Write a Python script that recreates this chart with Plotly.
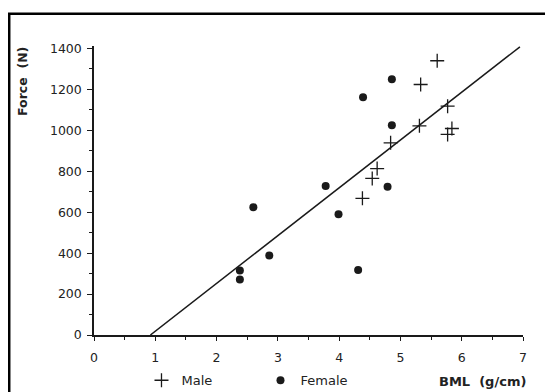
import plotly.graph_objects as go

male_x = [5.60, 5.33, 5.77, 5.31, 5.84, 5.77, 4.84, 4.62, 4.54, 4.38]
male_y = [1340, 1224, 1118, 1022, 1009, 980, 939, 813, 765, 668]

female_x = [4.86, 4.86, 4.79, 4.39, 3.78, 2.60, 3.99, 2.86, 2.38, 2.38, 4.31]
female_y = [1250, 1025, 724, 1161, 728, 624, 590, 388, 315, 271, 318]

fit_x = [0.92, 6.95]
fit_y = [0, 1408]

x_ticks = [0, 1, 2, 3, 4, 5, 6, 7]
y_ticks = [0, 200, 400, 600, 800, 1000, 1200, 1400]

FONT = "DejaVu Sans"
INK = "#1a1a1a"

# page body has an 8px margin; figure is sized to fill the rest of the window
OFF = 8
W, H = 553 - OFF, 392 - OFF
L = 93.5 - OFF
R = W - (522.6 - OFF)
T = 45.8 - OFF
B = H - (334.7 - OFF)
pw = W - L - R
ph = H - T - B


def px(xw):  # window x -> paper x
    return (xw - OFF - L) / pw


def py(yw):  # window y -> paper y
    return (H - B - (yw - OFF)) / ph


fig = go.Figure()
fig.add_trace(go.Scatter(
    x=fit_x, y=fit_y, mode="lines", showlegend=False,
    line=dict(color=INK, width=1.5), hoverinfo="skip"))
fig.add_trace(go.Scatter(
    x=male_x, y=male_y, mode="markers", name="Male",
    marker=dict(symbol="cross-thin", size=10, color=INK,
                line=dict(color=INK, width=1.3)),
    cliponaxis=False))
fig.add_trace(go.Scatter(
    x=female_x, y=female_y, mode="markers", name="Female",
    marker=dict(symbol="circle", size=8, color=INK),
    cliponaxis=False))

fig.update_layout(
    width=W, height=H,
    margin=dict(l=L, r=R, t=T, b=B, pad=0, autoexpand=False),
    paper_bgcolor="white", plot_bgcolor="white",
    font=dict(family=FONT, size=12.5, color="#222"),
    showlegend=True,
    legend=dict(orientation="h", x=px(141), xanchor="left",
                y=py(380), yanchor="middle",
                font=dict(family=FONT, size=13, color="#222"),
                entrywidth=74, entrywidthmode="pixels",
                bgcolor="rgba(0,0,0,0)", itemsizing="trace"),
    xaxis=dict(range=[0, 7], tickvals=x_ticks, ticktext=[str(v) for v in x_ticks],
               showgrid=False, zeroline=False, showline=True,
               linecolor=INK, linewidth=2, ticks="outside", ticklen=4,
               tickwidth=1.3, tickcolor=INK, ticklabelstandoff=6,
               minor=dict(dtick=0.5, tick0=0, ticks="outside", ticklen=3,
                          tickwidth=1.2, tickcolor=INK, showgrid=False)),
    yaxis=dict(range=[0, 1412], tickvals=y_ticks, ticktext=[str(v) for v in y_ticks],
               showgrid=False, zeroline=False, showline=True,
               linecolor=INK, linewidth=1.5, ticks="outside", ticklen=5,
               tickwidth=1.3, tickcolor=INK, ticklabelstandoff=3,
               minor=dict(dtick=100, tick0=0, ticks="outside", ticklen=3,
                          tickwidth=1.2, tickcolor=INK, showgrid=False)),
)

# outer frame
fig.add_shape(type="rect", xref="paper", yref="paper",
              x0=px(8.7), x1=px(600), y0=py(440), y1=py(13.5),
              line=dict(color="black", width=2.5), fillcolor="rgba(0,0,0,0)",
              layer="above")

fig.add_annotation(text="<b>Force&nbsp;&nbsp;(N)</b>", xref="paper", yref="paper",
                   x=px(21.7), y=py(81.5), xanchor="center", yanchor="middle",
                   textangle=-90, showarrow=False,
                   font=dict(family=FONT, size=12.5, color="#222"))
fig.add_annotation(text="<b>BML&nbsp;&nbsp;(g/cm)</b>", xref="paper", yref="paper",
                   x=px(482), y=py(381.5), xanchor="center", yanchor="middle",
                   showarrow=False,
                   font=dict(family=FONT, size=13, color="#222"))

fig.write_html("out.html")
